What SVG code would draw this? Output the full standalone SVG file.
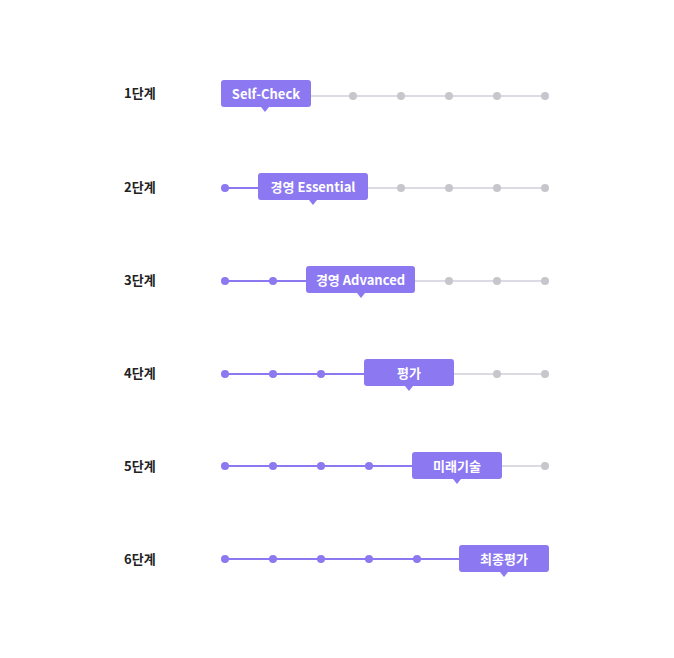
<svg xmlns="http://www.w3.org/2000/svg" width="674" height="658" viewBox="0 0 674 658">
<style>
.lbl{font-family:"Noto Sans CJK KR","Noto Sans",sans-serif;font-weight:700;font-size:13px;fill:#222}
.btxt{font-family:"Noto Sans CJK KR","Noto Sans",sans-serif;font-weight:700;font-size:13px;fill:#fff;text-anchor:middle}
.box{fill:#8c78f1}
.done{stroke:#8c78f1;stroke-width:2}
.todo{stroke:#dcdbe4;stroke-width:2}
.pd{fill:#8c78f1}
.gd{fill:#c6c6cc}
</style>
<rect width="674" height="658" fill="#fff"/>
<g id="connectors">
<line class="todo" x1="305" y1="96" x2="545" y2="96"/>
<line class="done" x1="225" y1="188" x2="260" y2="188"/>
<line class="todo" x1="366" y1="188" x2="545" y2="188"/>
<line class="done" x1="225" y1="281" x2="308" y2="281"/>
<line class="todo" x1="413" y1="281" x2="545" y2="281"/>
<line class="done" x1="225" y1="374" x2="366" y2="374"/>
<line class="todo" x1="452" y1="374" x2="545" y2="374"/>
<line class="done" x1="225" y1="466" x2="414" y2="466"/>
<line class="todo" x1="500" y1="466" x2="545" y2="466"/>
<line class="done" x1="225" y1="559" x2="461" y2="559"/>
</g>
<g id="step1">
<text class="lbl" x="124" y="97.5">1단계</text>
<circle class="gd" cx="353" cy="96" r="4"/><circle class="gd" cx="401" cy="96" r="4"/><circle class="gd" cx="449" cy="96" r="4"/><circle class="gd" cx="497" cy="96" r="4"/><circle class="gd" cx="545" cy="96" r="4"/>
<rect class="box" x="221" y="80" width="90" height="27" rx="3"/>
<path class="box" d="M261 107 L265 112 L269 107 Z"/>
<text class="btxt" x="266" y="98.5">Self-Check</text>
</g>
<g id="step2">
<text class="lbl" x="124" y="192">2단계</text>
<circle class="pd" cx="225" cy="188" r="4"/>
<circle class="gd" cx="401" cy="188" r="4"/><circle class="gd" cx="449" cy="188" r="4"/><circle class="gd" cx="497" cy="188" r="4"/><circle class="gd" cx="545" cy="188" r="4"/>
<rect class="box" x="258" y="173" width="110" height="27" rx="3"/>
<path class="box" d="M309 200 L313 205 L317 200 Z"/>
<text class="btxt" x="313" y="191.5">경영 Essential</text>
</g>
<g id="step3">
<text class="lbl" x="124" y="285">3단계</text>
<circle class="pd" cx="225" cy="281" r="4"/><circle class="pd" cx="273" cy="281" r="4"/>
<circle class="gd" cx="449" cy="281" r="4"/><circle class="gd" cx="497" cy="281" r="4"/><circle class="gd" cx="545" cy="281" r="4"/>
<rect class="box" x="306" y="266" width="109" height="27" rx="3"/>
<path class="box" d="M357 293 L361 298 L365 293 Z"/>
<text class="btxt" x="360.5" y="284.5">경영 Advanced</text>
</g>
<g id="step4">
<text class="lbl" x="124" y="378">4단계</text>
<circle class="pd" cx="225" cy="374" r="4"/><circle class="pd" cx="273" cy="374" r="4"/><circle class="pd" cx="321" cy="374" r="4"/>
<circle class="gd" cx="497" cy="374" r="4"/><circle class="gd" cx="545" cy="374" r="4"/>
<rect class="box" x="364" y="359" width="90" height="27" rx="3"/>
<path class="box" d="M405 386 L409 391 L413 386 Z"/>
<text class="btxt" x="409" y="377.5">평가</text>
</g>
<g id="step5">
<text class="lbl" x="124" y="471">5단계</text>
<circle class="pd" cx="225" cy="466" r="4"/><circle class="pd" cx="273" cy="466" r="4"/><circle class="pd" cx="321" cy="466" r="4"/><circle class="pd" cx="369" cy="466" r="4"/>
<circle class="gd" cx="545" cy="466" r="4"/>
<rect class="box" x="412" y="452" width="90" height="27" rx="3"/>
<path class="box" d="M453 479 L457 484 L461 479 Z"/>
<text class="btxt" x="457" y="470.5">미래기술</text>
</g>
<g id="step6">
<text class="lbl" x="124" y="564">6단계</text>
<circle class="pd" cx="225" cy="559" r="4"/><circle class="pd" cx="273" cy="559" r="4"/><circle class="pd" cx="321" cy="559" r="4"/><circle class="pd" cx="369" cy="559" r="4"/><circle class="pd" cx="417" cy="559" r="4"/>
<rect class="box" x="459" y="545" width="90" height="27" rx="3"/>
<path class="box" d="M500 572 L504 577 L508 572 Z"/>
<text class="btxt" x="504" y="563.5">최종평가</text>
</g>
</svg>
